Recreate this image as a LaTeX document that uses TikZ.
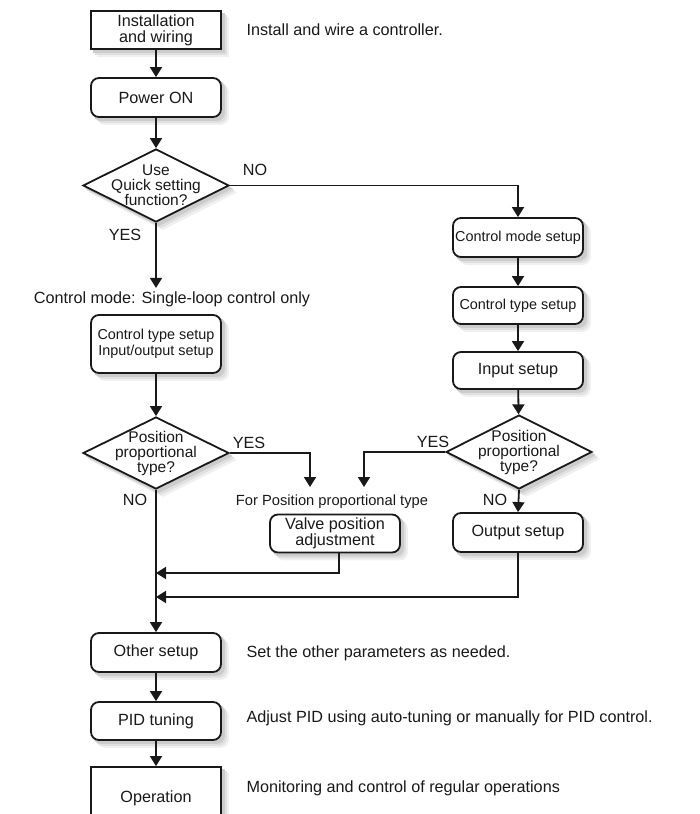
\documentclass[tikz,border=0pt]{standalone}
\usepackage{fontspec}
\setmainfont{Liberation Sans}
\usetikzlibrary{arrows.meta,shapes.geometric,backgrounds}
\tikzset{
  stepbox/.style={draw,line width=1.8pt,rounded corners=8pt,fill=white,
    minimum width=130pt,minimum height=38pt,inner sep=1pt,align=center},
  plainbox/.style={stepbox,rounded corners=0pt},
  askbox/.style={draw,line width=1.8pt,diamond,fill=white,inner sep=0pt,
    minimum width=146pt,minimum height=73pt},
  asktext/.style={align=center,inner sep=0pt,font=\fontsize{15.5}{15}\selectfont},
  flowArrow/.style={-{Triangle[length=10pt,width=12pt]},line width=1.8pt},
  narrow/.style={font=\fontsize{14.4}{16}\selectfont},
  shadeA/.style={fill=black!6},
  shadeB/.style={fill=black!12},
  shadeC/.style={fill=black!20}
}

\begin{document}
\begin{tikzpicture}[x=1pt,y=-1pt,font=\fontsize{16.2}{16}\selectfont,color=black!90]
  \useasboundingbox (0,0) rectangle (699,814);
  % left column
  \node[plainbox] (inst) at (156,30) {Installation\\and wiring};
  \node[anchor=west] (instnote) at (243,30) {Install and wire a controller.};
  \node[stepbox,minimum height=39pt] (pwr) at (156,97.5) {Power ON};
  \node[askbox] (q1) at (156,185.5) {};
  \node[asktext] (q1txt) at (156,185.5) {Use\\Quick setting\\function?};
  \node (q1no) at (255,170) {NO};
  \node (q1yes) at (125,235) {YES};
  \node (cmtxt) at (172,299) {Control mode: Single-loop control only};
  \node[stepbox,minimum height=58pt,narrow] (ctio) at (156,344) {Control type setup\\Input/output setup};
  \node[askbox,minimum height=72pt] (q2) at (156,453) {};
  \node[asktext] (q2txt) at (156,453) {Position\\proportional\\type?};
  \node (q2yes) at (249,443) {YES};
  \node (q2no) at (135,500) {NO};
  \coordinate (yesL) at (310,487);
  \node[font=\fontsize{14.7}{16}\selectfont] (vtxt) at (332,502) {For Position proportional type};
  \node[stepbox] (valve) at (335,533.5) {Valve position\\adjustment};
  % right column
  \node[stepbox,minimum height=39pt,narrow] (cmode) at (518,237.5) {Control mode setup};
  \node[stepbox,minimum height=37pt,narrow] (ctype) at (518,305.5) {Control type setup};
  \node[stepbox,minimum height=37pt] (inp) at (518,370.5) {Input setup};
  \node[askbox,minimum height=74pt] (q3) at (519,452) {};
  \node[asktext] (q3txt) at (519,452) {Position\\proportional\\type?};
  \node (q3yes) at (433,442) {YES};
  \node (q3no) at (495,500) {NO};
  \coordinate (yesR) at (364,487);
  \node[stepbox,minimum height=39pt] (outs) at (518,532.5) {Output setup};
  % joining points on the main line
  \coordinate (join1) at (156,573);
  \coordinate (join2) at (156,597);
  % bottom part
  \node[stepbox,minimum height=39pt] (other) at (156,652.5) {Other setup};
  \node[anchor=west] (othernote) at (243,653) {Set the other parameters as needed.};
  \node[stepbox] (pid) at (156,721) {PID tuning};
  \node[anchor=west] (pidnote) at (243,718) {Adjust PID using auto-tuning or manually for PID control.};
  \node[plainbox,minimum height=63pt] (oper) at (156,798.5) {Operation};
  \node[anchor=west] (opernote) at (243,788) {Monitoring and control of regular operations};
  % connectors
  \draw[flowArrow] (inst) -- (pwr);
  \draw[flowArrow] (pwr) -- (q1);
  \draw[flowArrow] (q1.east) -| (cmode.north);
  \draw[flowArrow] (q1.south) -- (q1.south |- cmtxt.north);
  \draw[flowArrow] (ctio) -- (q2);
  \draw[flowArrow] (q2.east) -| (yesL);
  \draw[flowArrow] (q2.south) -- (other.north);
  \draw[flowArrow] (cmode) -- (ctype);
  \draw[flowArrow] (ctype) -- (inp);
  \draw[flowArrow] (inp) -- (q3);
  \draw[flowArrow] (q3.west) -| (yesR);
  \draw[flowArrow] (q3.south) -- (outs.north);
  \draw[flowArrow] ([xshift=4pt]valve.south) |- (join1);
  \draw[flowArrow] (outs.south) |- (join2);
  \draw[flowArrow] (other) -- (pid);
  \draw[flowArrow] (pid) -- (oper);
  % soft shadows
  \begin{scope}[on background layer]
    \foreach \off/\sty in {7pt/shadeA,5pt/shadeB,3pt/shadeC} {
      \foreach \bx in {pwr,ctio,valve,cmode,ctype,inp,outs,other,pid}
        \path[\sty,rounded corners=8pt] ([xshift=\off,yshift=-\off]\bx.north west) rectangle ([xshift=\off,yshift=-\off]\bx.south east);
      \foreach \bx in {inst,oper}
        \path[\sty] ([xshift=\off,yshift=-\off]\bx.north west) rectangle ([xshift=\off,yshift=-\off]\bx.south east);
      \foreach \bx in {q1,q2,q3}
        \path[\sty] ([xshift=\off,yshift=-\off]\bx.north) -- ([xshift=\off,yshift=-\off]\bx.east)
          -- ([xshift=\off,yshift=-\off]\bx.south) -- ([xshift=\off,yshift=-\off]\bx.west) -- cycle;
    }
  \end{scope}
\end{tikzpicture}
\end{document}
